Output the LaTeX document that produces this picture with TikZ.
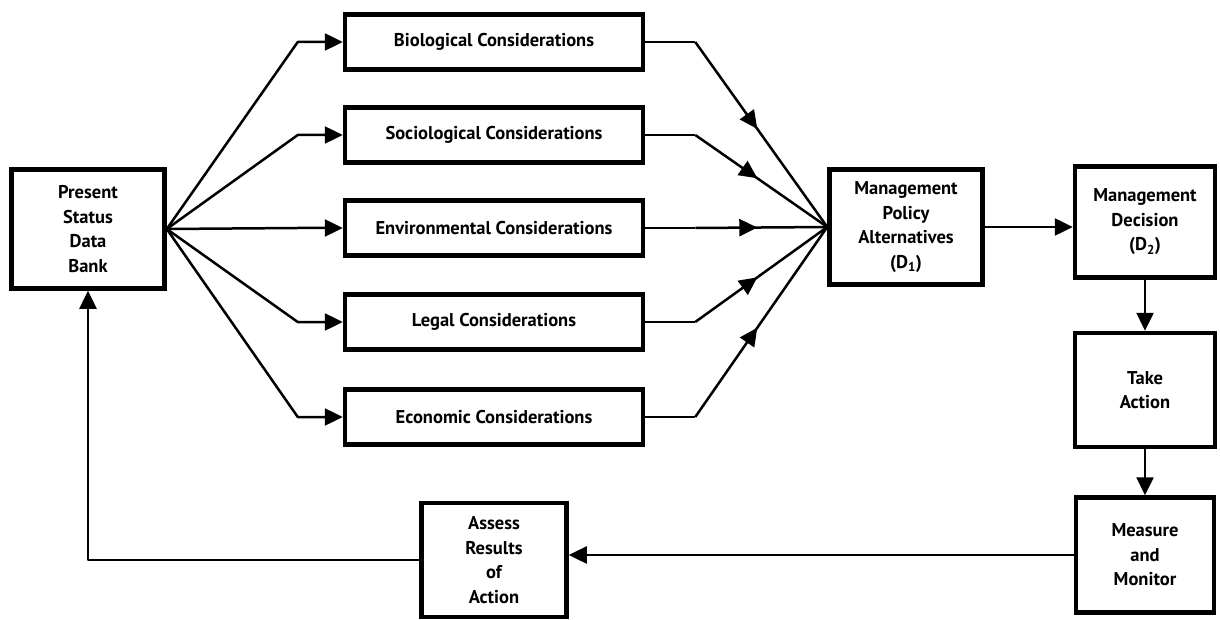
\documentclass[tikz,border=0pt]{standalone}
\usepackage{fontspec}
\setsansfont{PT Sans}
\usetikzlibrary{arrows.meta,decorations.markings}

\begin{document}
\begin{tikzpicture}[
	x=1pt, y=-1pt,
	box/.style={ draw, line width=4.5pt, align=center, inner sep=2pt,
		font=\sffamily\bfseries\fontsize{18.5}{24.5}\selectfont },
	conn/.style={ line width=2.5pt, line join=round },
	arr/.style={ -{Triangle[length=18pt,width=17pt]} },
	midarrow/.style={ postaction={decorate}, decoration={markings,
		mark=at position 0.47 with {\arrow{Triangle[length=18pt,width=17pt]}}} }
]
\useasboundingbox (0,0) rectangle (1220,620);

\node at (88,229) (bank) [box,minimum width=153pt,minimum height=119pt] {Present\\Status\\Data\\Bank};
\node at (494,42) (bio) [box,minimum width=298pt,minimum height=55pt] {Biological Considerations};
\node at (494,135) (soc) [box,minimum width=298pt,minimum height=55pt] {Sociological Considerations};
\node at (494,228) (env) [box,minimum width=298pt,minimum height=55pt] {Environmental Considerations};
\node at (494,322) (leg) [box,minimum width=298pt,minimum height=55pt] {Legal Considerations};
\node at (494,417) (eco) [box,minimum width=298pt,minimum height=55pt] {Economic Considerations};
\node at (906,227) (mpa) [box,minimum width=153pt,minimum height=115pt] {Management\\Policy\\Alternatives\\(D\textsubscript{1})};
\node at (1145,222) (dec) [box,minimum width=140pt,minimum height=111pt] {Management\\Decision\\(D\textsubscript{2})};
\node at (1145,390) (act) [box,minimum width=140pt,minimum height=114pt] {Take\\Action};
\node at (1145,555) (mon) [box,minimum width=138pt,minimum height=115pt] {Measure\\and\\Monitor};
\node at (494,560) (assess) [box,minimum width=145pt,minimum height=114pt] {Assess\\Results\\of\\Action};

% fan out from the data bank
\foreach \b in {bio,soc,env,leg,eco}
  \draw[conn,arr] (bank.east) -- ([xshift=-45pt]\b.west) -- (\b.west);

% fan in to the policy alternatives
\foreach \b in {bio,soc,env,leg,eco} {
  \draw[conn] (\b.east) -- ++(50,0) coordinate (\b-r);
  \draw[conn,midarrow] (\b-r) -- (mpa.west);
}

\draw[conn,arr] (mpa.east) -- (mpa.east -| dec.west);
\draw[conn,arr] (dec.south) -- (act.north);
\draw[conn,arr] (act.south) -- (mon.north);
\draw[conn,arr] (mon.west) -- (mon.west -| assess.east);
\draw[conn,arr] (assess.west) -- (assess.west -| bank.south) -- (bank.south);

\end{tikzpicture}
\end{document}
